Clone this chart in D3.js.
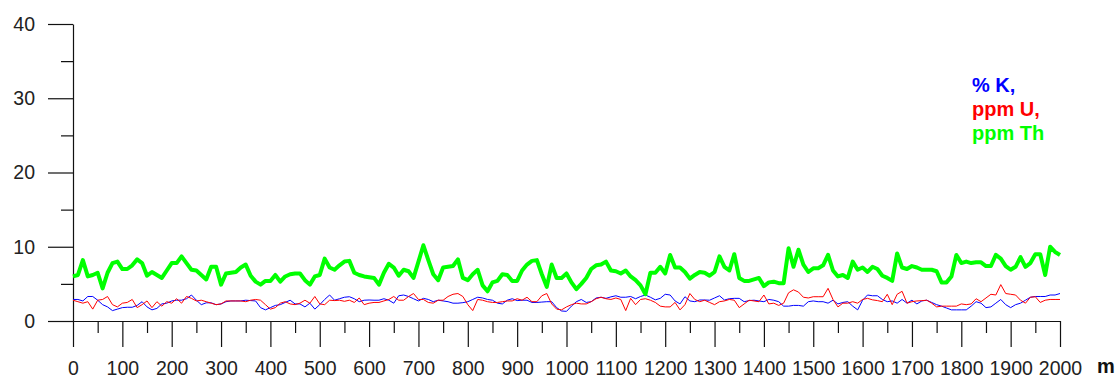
<!DOCTYPE html>
<html>
<head>
<meta charset="utf-8">
<script src="https://cdn.jsdelivr.net/npm/d3@7"></script>
<style>
  html, body { margin: 0; padding: 0; background: #fff; }
  svg { display: block; font-family: "Liberation Sans", Arial, sans-serif; }
</style>
</head>
<body>
<svg id="chart" width="1118" height="378"></svg>
<script>
// distance along profile (m), 10 m sampling
const distance = d3.range(0, 2001, 10);

const xMajorTicks = d3.range(0, 2001, 100);
const xMinorTicks = d3.range(50, 2000, 100);
const yMajorTicks = [0, 10, 20, 30, 40];
const yMinorTicks = [5, 15, 25, 35];

const seriesNames = ["% K,", "ppm U,", "ppm Th"];
const seriesColors = ["#0000ff", "#ff0000", "#00ff00"];

const potassium = [
  2.9, 2.9, 2.7, 3.3, 3.3, 2.8, 2.2, 1.9, 1.4, 1.6, 1.8,
  1.85, 1.85, 2.1, 2.6, 1.9, 1.5, 1.7, 2.3, 2.4, 2.7,
  2.8, 2.8, 3.0, 3.5, 2.8, 2.2, 2.45, 2.45, 2.2, 2.3,
  2.6, 2.7, 2.7, 2.7, 2.8, 2.75, 2.7, 1.8, 1.5, 1.8,
  2.1, 2.2, 2.5, 2.8, 2.3, 2.3, 1.9, 2.4, 1.6, 2.2,
  2.9, 3.5, 2.8, 3.0, 3.2, 3.27, 3.0, 2.6, 2.8, 2.83,
  2.8, 2.8, 3.0, 2.8, 2.4, 3.4, 3.5, 3.3, 3.0, 2.7,
  3.05, 2.9, 2.6, 2.8, 2.7, 2.6, 2.4, 2.4, 2.47, 2.6,
  2.9, 3.2, 3.1, 2.9, 2.8, 2.4, 2.3, 2.8, 3.0, 2.75,
  2.8, 2.8, 2.5, 2.5, 2.55, 2.6, 2.6, 1.8, 1.35, 1.3,
  2.0, 2.6, 2.9, 2.5, 2.6, 3.1, 3.2, 3.05, 3.25, 3.4,
  3.2, 3.2, 3.3, 3.0, 3.3, 3.5, 3.2, 2.85, 3.05, 3.6,
  3.5, 2.7, 2.3, 3.27, 2.7, 2.6, 2.83, 2.83, 2.8, 3.1,
  3.4, 2.83, 3.0, 3.05, 3.05, 2.6, 2.75, 2.8, 2.7, 2.6,
  2.9, 2.8, 2.6, 2.0, 2.0, 2.1, 2.1, 2.0, 2.6, 2.7,
  2.6, 2.6, 2.4, 2.8, 2.3, 2.5, 2.6, 2.0, 1.5, 2.8,
  3.5, 3.4, 3.4, 2.9, 2.6, 2.7, 2.4, 2.9, 2.4, 2.8,
  2.3, 2.7, 2.8, 2.5, 2.2, 2.0, 1.75, 1.5, 1.5, 1.5,
  1.5, 2.0, 2.6, 2.4, 1.8, 1.9, 2.4, 2.9, 2.2, 1.8,
  2.2, 2.4, 2.8, 3.2, 3.3, 3.3, 3.3, 3.5, 3.5, 3.7
];

const uranium = [
  2.8, 2.6, 2.4, 2.6, 1.6, 2.8, 2.9, 3.3, 2.2, 1.9, 2.4,
  2.5, 2.9, 1.8, 2.2, 2.7, 1.8, 2.6, 2.0, 2.6, 2.4,
  3.0, 2.4, 3.3, 3.05, 2.7, 2.8, 2.6, 2.4, 2.2, 2.3,
  2.7, 2.7, 2.7, 2.7, 2.6, 2.8, 2.9, 2.8, 2.2, 1.6,
  1.8, 2.4, 2.6, 2.3, 2.2, 2.4, 2.8, 2.4, 3.3, 2.3,
  2.2, 2.8, 2.75, 2.8, 2.65, 2.8, 2.5, 3.1, 2.2, 2.4,
  2.5, 2.5, 2.7, 2.9, 3.3, 2.8, 2.8, 3.3, 3.7, 2.9,
  2.9, 2.5, 2.4, 2.8, 2.8, 3.3, 3.6, 3.7, 3.3, 2.2,
  1.4, 2.9, 2.8, 2.6, 2.5, 2.5, 2.6, 2.7, 2.7, 3.0,
  2.8, 3.2, 2.6, 2.6, 3.4, 3.7, 2.3, 1.6, 1.5, 1.9,
  2.2, 2.4, 2.3, 2.3, 2.6, 3.0, 3.2, 3.0, 2.9, 3.1,
  2.9, 1.4, 3.05, 2.2, 2.9, 3.0, 2.8, 2.5, 2.0, 1.9,
  1.9, 2.5, 1.5, 2.2, 3.7, 2.9, 2.6, 2.8, 2.5, 2.2,
  2.6, 2.7, 2.9, 2.8, 1.8, 2.3, 2.8, 2.7, 2.6, 3.5,
  2.3, 2.4, 2.1, 2.4, 3.8, 4.2, 3.9, 3.2, 3.1, 3.27,
  3.27, 3.27, 4.4, 2.9, 1.9, 2.4, 2.4, 2.6, 2.4, 2.9,
  3.05, 2.85, 2.75, 2.6, 3.6, 2.2, 3.6, 4.0, 2.4, 2.6,
  2.7, 2.74, 2.8, 2.4, 1.9, 2.0, 2.0, 2.0, 2.0, 2.3,
  2.2, 2.3, 3.0, 2.6, 3.1, 3.6, 3.5, 4.9, 3.7, 3.6,
  3.5, 2.8, 2.4, 3.2, 3.27, 2.5, 2.8, 2.9, 2.9, 2.9
];

const thorium = [
  6.0, 6.2, 8.2, 6.0, 6.2, 6.5, 4.4, 6.5, 7.8, 8.0, 7.0,
  7.0, 7.5, 8.3, 7.8, 6.1, 6.6, 6.2, 5.8, 6.8, 7.8,
  7.8, 8.7, 7.8, 6.9, 6.8, 6.2, 5.6, 7.3, 7.3, 4.9,
  6.4, 6.5, 6.6, 7.2, 7.6, 6.1, 5.3, 4.9, 5.4, 5.4,
  6.2, 5.3, 6.0, 6.3, 6.4, 6.4, 5.5, 4.9, 6.0, 6.2,
  8.4, 7.2, 6.9, 7.5, 8.0, 8.1, 6.5, 6.2, 6.0, 5.9,
  5.8, 4.9, 6.5, 7.7, 7.2, 6.1, 6.9, 6.7, 5.8, 8.0,
  10.2, 8.2, 6.3, 5.5, 7.2, 7.3, 7.4, 8.3, 5.8, 5.5,
  6.3, 6.9, 4.8, 4.0, 5.2, 5.4, 6.3, 6.2, 5.4, 5.4,
  6.8, 7.6, 8.1, 8.2, 6.3, 4.6, 7.6, 5.8, 5.8, 6.4,
  5.2, 4.3, 5.0, 5.8, 7.0, 7.5, 7.6, 8.0, 6.8, 6.7,
  6.4, 6.8, 6.0, 5.5, 4.8, 3.6, 6.5, 6.5, 7.3, 6.4,
  8.9, 7.2, 7.2, 6.6, 5.7, 6.2, 6.6, 6.5, 6.1, 6.6,
  8.7, 7.3, 6.8, 9.0, 5.8, 5.4, 5.4, 5.6, 5.8, 4.7,
  5.2, 5.3, 5.1, 5.1, 9.8, 7.3, 9.6, 7.6, 6.6, 7.1,
  7.1, 7.5, 8.9, 6.8, 6.0, 6.2, 5.8, 8.0, 6.9, 7.2,
  6.6, 7.3, 7.0, 6.1, 5.8, 5.4, 9.1, 7.2, 7.0, 7.4,
  7.2, 6.9, 6.9, 6.9, 6.7, 5.2, 5.2, 6.0, 8.9, 7.8,
  8.0, 7.8, 7.9, 7.9, 7.4, 7.4, 8.9, 8.4, 7.4, 6.9,
  7.3, 8.6, 7.3, 7.8, 9.0, 9.0, 6.2, 10.0, 9.3, 8.9
];

const svg = d3.select("#chart");
const x = d3.scaleLinear().domain([0, 2000]).range([73, 1060]);
const y = d3.scaleLinear().domain([0, 40]).range([321, 24]);

const axisColor = "#111";
const labelColor = "#222";
const fmt = d3.format("d");

// Y axis major
const gyMaj = svg.append("g").attr("transform", "translate(73,0)")
  .call(d3.axisLeft(y).tickValues(yMajorTicks).tickFormat(fmt).tickSize(25).tickSizeOuter(0).tickPadding(13));
gyMaj.selectAll("text").attr("font-size", "19.5px").attr("fill", labelColor)
  .attr("font-family", "'Liberation Sans', Arial, sans-serif");
// Y axis minor
svg.append("g").attr("transform", "translate(73,0)")
  .call(d3.axisLeft(y).tickValues(yMinorTicks).tickSize(12).tickSizeOuter(0).tickFormat(""))
  .select(".domain").remove();

// X axis major
const gxMaj = svg.append("g").attr("transform", "translate(0,321)")
  .call(d3.axisBottom(x).tickValues(xMajorTicks).tickFormat(fmt).tickSize(26).tickSizeOuter(0).tickPadding(14));
gxMaj.selectAll("text").attr("font-size", "19.5px").attr("fill", labelColor)
  .attr("font-family", "'Liberation Sans', Arial, sans-serif");
// X axis minor
svg.append("g").attr("transform", "translate(0,321)")
  .call(d3.axisBottom(x).tickValues(xMinorTicks).tickSize(12).tickSizeOuter(0).tickFormat(""))
  .select(".domain").remove();

svg.selectAll(".domain, .tick line").attr("stroke", axisColor).attr("stroke-width", 1.2);

// unit label
svg.append("text").attr("x", 1106).attr("y", 373).attr("text-anchor", "middle")
  .attr("font-size", "20px").attr("font-weight", "bold").attr("fill", "#111").text("m");

// series
const line = d3.line().x((d, i) => x(distance[i])).y(d => y(d));
const series = [potassium, uranium, thorium];
const widths = [1, 1, 4];
series.forEach((vals, k) => {
  svg.append("path").datum(vals)
    .attr("fill", "none")
    .attr("stroke", seriesColors[k])
    .attr("stroke-width", widths[k])
    .attr("stroke-linejoin", "round")
    .attr("d", line);
});

// legend
seriesNames.forEach((name, k) => {
  svg.append("text").attr("x", 972).attr("y", 92 + k * 24)
    .attr("font-size", "20px").attr("font-weight", "bold")
    .attr("fill", seriesColors[k]).text(name);
});
</script>
</body>
</html>
